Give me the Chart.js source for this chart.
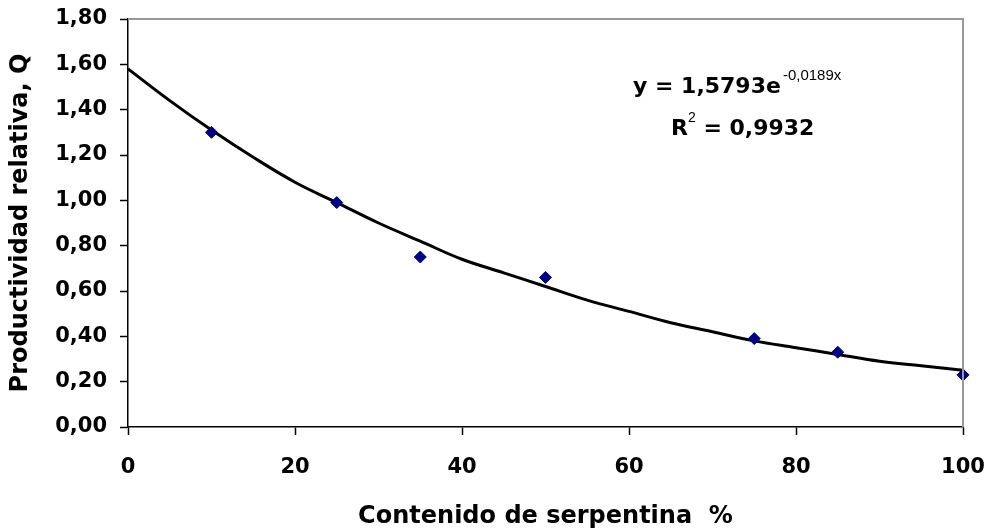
<!DOCTYPE html>
<html>
<head>
<meta charset="utf-8">
<script src="https://cdn.jsdelivr.net/npm/chart.js@4"></script>
<style>
  html, body { margin: 0; padding: 0; background: #ffffff; }
  #wrap { width: 991px; height: 531px; position: relative; }
</style>
</head>
<body>
<div id="wrap"><canvas id="chart" width="991" height="531"></canvas></div>
<script>
// measured points
const contenido = [10, 25, 35, 50, 75, 85, 100];
const productividad = [1.30, 0.99, 0.75, 0.66, 0.39, 0.33, 0.23];

// trend line
const trendX = [0, 5, 10, 15, 20, 25, 30, 35, 40, 45, 50, 55, 60, 65, 70, 75, 80, 85, 90, 95, 100];
const trendY = [1.58, 1.44, 1.31, 1.19, 1.08, 0.99, 0.90, 0.82, 0.74, 0.68, 0.62, 0.56, 0.51, 0.46, 0.42, 0.38, 0.35, 0.32, 0.29, 0.27, 0.25];

const xTitle = 'Contenido de serpentina  %';
const yTitle = 'Productividad relativa, Q';
const eqMain = 'y = 1,5793e';
const eqExp = '-0,0189x';
const r2Label = 'R';
const r2Value = ' = 0,9932';

const FONT = '"DejaVu Sans", Verdana, sans-serif';

const frameAndLabels = {
    id: 'frameAndLabels',
    afterDraw(chart) {
        const ctx = chart.ctx;
        const a = chart.chartArea;
        ctx.save();
        // top and right frame lines
        ctx.strokeStyle = '#999999';
        ctx.lineWidth = 2;
        ctx.beginPath();
        ctx.moveTo(a.left, a.top);
        ctx.lineTo(a.right, a.top);
        ctx.lineTo(a.right, a.bottom);
        ctx.stroke();

        // equation
        ctx.fillStyle = '#000000';
        ctx.textBaseline = 'alphabetic';
        ctx.font = 'bold 22px ' + FONT;
        ctx.fillText(eqMain, 633, 93);
        const w = ctx.measureText(eqMain).width;
        ctx.font = '15px "Liberation Sans", Arial, sans-serif';
        ctx.fillText(eqExp, 633 + w + 2, 80);

        ctx.font = 'bold 22px ' + FONT;
        ctx.fillText(r2Label, 671, 135);
        const rw = ctx.measureText(r2Label).width;
        ctx.font = '14px "Liberation Sans", Arial, sans-serif';
        ctx.fillText('2', 671 + rw, 122);
        const sw = ctx.measureText('2').width;
        ctx.font = 'bold 22px ' + FONT;
        ctx.fillText(r2Value, 671 + rw + sw, 135);
        ctx.restore();
    }
};

new Chart(document.getElementById('chart'), {
    type: 'scatter',
    data: {
        datasets: [
            {
                type: 'line',
                data: trendX.map((x, i) => ({ x: x, y: trendY[i] })),
                borderColor: '#000000',
                borderWidth: 3,
                pointRadius: 0,
                tension: 0.4,
                fill: false,
                order: 2
            },
            {
                data: contenido.map((x, i) => ({ x: x, y: productividad[i] })),
                backgroundColor: '#000080',
                borderColor: '#000080',
                pointStyle: 'rectRot',
                pointRadius: 6,
                clip: false,
                order: 1
            }
        ]
    },
    options: {
        responsive: false,
        animation: false,
        layout: { padding: { top: 19, right: 28, left: 0, bottom: 0 } },
        plugins: {
            legend: { display: false },
            tooltip: { enabled: false }
        },
        scales: {
            x: {
                type: 'linear',
                min: 0,
                max: 100,
                ticks: {
                    stepSize: 20,
                    color: '#000000',
                    font: { family: FONT, size: 21, weight: 'bold' },
                    padding: 20
                },
                grid: {
                    drawOnChartArea: false,
                    color: '#000000',
                    tickLength: 8,
                    tickWidth: 1.5
                },
                border: { color: '#000000', width: 1.5 },
                title: {
                    display: true,
                    text: xTitle,
                    color: '#000000',
                    font: { family: FONT, size: 24, weight: 'bold' },
                    padding: { top: 17, bottom: 0 }
                },
                afterFit(scale) {
                    scale.height = 104;
                    scale.paddingLeft = 0;
                    scale.paddingRight = 0;
                }
            },
            y: {
                min: 0,
                max: 1.8,
                ticks: {
                    stepSize: 0.2,
                    color: '#000000',
                    font: { family: FONT, size: 21, weight: 'bold' },
                    padding: 13,
                    callback: v => v.toFixed(2).replace('.', ',')
                },
                grid: {
                    drawOnChartArea: false,
                    color: '#000000',
                    tickLength: 8,
                    tickWidth: 1.5
                },
                border: { color: '#000000', width: 1.5 },
                title: {
                    display: true,
                    text: yTitle,
                    color: '#000000',
                    font: { family: FONT, size: 24, weight: 'bold' },
                    padding: { top: 6, bottom: 2 }
                },
                afterFit(scale) {
                    scale.width = 128;
                    scale.paddingTop = 0;
                    scale.paddingBottom = 0;
                }
            }
        }
    },
    plugins: [frameAndLabels]
});
</script>
</body>
</html>
